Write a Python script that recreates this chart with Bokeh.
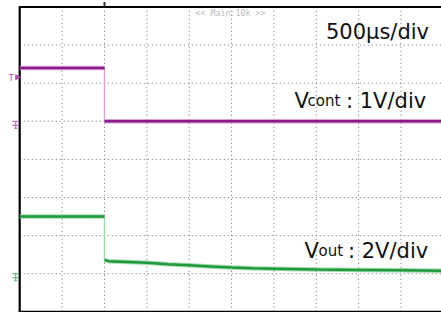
from bokeh.plotting import figure
from bokeh.models import Range1d
from bokeh.core.properties import value
from bokeh.embed import file_html
from bokeh.resources import INLINE

# ---------------- data (oscilloscope capture) ----------------
time_per_div_us = 500          # 500 us/div
n_xdiv = 10
n_ydiv = 8

# Vcont trace (1 V/div, ground at division 5)
vcont_t = [0, 1000, 1000, 5000]            # us
vcont_v = [1.40, 1.40, 0.00, 0.00]         # V
vcont_scale = 1.0
vcont_ground_div = 5

# Vout trace (2 V/div, ground at division 1)
vout_t = [0, 1000, 1000, 1050, 1500, 1750, 2000, 2250, 2500, 2750, 3000, 3500, 4000, 4500, 5000]
vout_v = [3.00, 3.00, 0.72, 0.66, 0.58, 0.50, 0.44, 0.38, 0.32, 0.28, 0.26, 0.22, 0.20, 0.18, 0.16]
vout_scale = 2.0
vout_ground_div = 1

trigger_time_us = 1000
trigger_level_v = 1.15     # trigger on Vcont

label_timebase = "500\u03bcs/div"
label_vcont = ("V", "cont", ": 1V/div")
label_vout = ("V", "out", ": 2V/div")
label_zoom = "<< Main:10k >>"

# ---------------- geometry helpers ----------------
full_t = time_per_div_us * n_xdiv
W, H = 441, 312
left_px = 19.3           # screen left edge inside the figure
bottom_px = 311.3        # graticule zero line
px_per_div_x = 42.35
px_per_div_y = 38.1
ux = time_per_div_us / px_per_div_x     # us per pixel
uy = 1.0 / px_per_div_y                 # div per pixel

x0 = -left_px * ux
x1 = (W - left_px) * ux
y0 = -(H - bottom_px) * uy
y1 = bottom_px * uy

p = figure(width=W, height=H, x_range=Range1d(x0, x1), y_range=Range1d(y0, y1),
           output_backend="svg", toolbar_location=None,
           x_axis_location=None, y_axis_location=None,
           min_border_left=0, min_border_right=0, min_border_top=0, min_border_bottom=0)
p.grid.visible = False
p.outline_line_color = None
p.background_fill_color = "white"
p.border_fill_color = "white"

def to_div(v, scale, ground):
    return [ground + x / scale for x in v]

def px_x(px):
    return (px - left_px) * ux

def px_y(py):
    return (bottom_px - py) * uy

# ---------------- graticule ----------------
gx = [time_per_div_us * k for k in range(1, n_xdiv)]
p.segment(x0=gx, y0=[0] * len(gx), x1=gx, y1=[n_ydiv] * len(gx),
          line_color="#6e6e6e", line_width=1, line_dash="1 3")
gy = list(range(1, n_ydiv))
p.segment(x0=[0] * len(gy), y0=gy, x1=[full_t] * len(gy), y1=gy,
          line_color="#6e6e6e", line_width=1, line_dash="1 3")

# screen border
p.segment(x0=[-1.2 * ux], y0=[0], x1=[-1.2 * ux], y1=[n_ydiv], line_color="#b0b0b0", line_width=1)
p.segment(x0=[0], y0=[-0.5 * uy], x1=[0], y1=[n_ydiv], line_color="black", line_width=2)
p.segment(x0=[-1 * ux], y0=[n_ydiv], x1=[full_t], y1=[n_ydiv], line_color="black", line_width=2)
p.segment(x0=[-1 * ux], y0=[0], x1=[full_t], y1=[0], line_color="black", line_width=2)

# trigger position mark above the screen
p.segment(x0=[trigger_time_us], y0=[n_ydiv], x1=[trigger_time_us], y1=[n_ydiv + 5 * uy],
          line_color="#333333", line_width=2)

# ---------------- traces ----------------
def draw_trace(t, v, scale, ground, dark, halo, edge):
    y = to_div(v, scale, ground)
    pieces, cur, edges = [], [0], []
    for i in range(1, len(t)):
        if t[i] == t[i - 1]:
            pieces.append(cur)
            edges.append((i - 1, i))
            cur = [i]
        else:
            cur.append(i)
    pieces.append(cur)
    for a, b in edges:
        p.line([t[a], t[b]], [y[a], y[b]], line_color=edge, line_width=1.5)
    for idx in pieces:
        xs = [t[i] for i in idx]
        ys = [y[i] for i in idx]
        p.line(xs, ys, line_color=halo, line_width=4.5, line_alpha=0.8)
        p.line(xs, ys, line_color=dark, line_width=2.5)

draw_trace(vcont_t, vcont_v, vcont_scale, vcont_ground_div, "#8a1c8a", "#cf8fcf", "#d9a3d9")
draw_trace(vout_t, vout_v, vout_scale, vout_ground_div, "#1f9a3c", "#8fd19f", "#9fd9ad")

# ---------------- ground markers ----------------
def ground_marker(level, color):
    xa, xb, xm = -7.5 * ux, -0.8 * ux, -4.1 * ux
    p.segment(x0=[xa, xm, xa, -5.6 * ux], y0=[level, level, level - 4 * uy, level - 7 * uy],
              x1=[xb, xm, xb, -2.6 * ux], y1=[level, level - 7 * uy, level - 4 * uy, level - 7 * uy],
              line_color=color, line_width=1.2)

ground_marker(vcont_ground_div, "#c070c0")
ground_marker(vout_ground_div, "#6cc07e")

# trigger level marker
trig_y = vcont_ground_div + trigger_level_v / vcont_scale
p.text(x=[-11 * ux], y=[trig_y - 1.2 * uy], text=["T"], text_color="#b050b0",
       text_font=value("DejaVu Sans"), text_font_size="8px", text_baseline="alphabetic",
       text_align="left")
p.scatter(x=[-2.6 * ux], y=[trig_y + 0.3 * uy], marker="triangle", size=5, angle=-1.5708,
          fill_color="#b050b0", line_color="#b050b0")

# ---------------- texts ----------------
font = value("DejaVu Sans")
p.text(x=[px_x(230)], y=[px_y(12)], text=[label_zoom], text_color="#bdbdbd",
       text_font=value("DejaVu Sans Mono"), text_font_size="8.3px",
       text_align="center", text_baseline="middle")

p.text(x=[px_x(428.5)], y=[px_y(31)], text=[label_timebase], text_color="#111111",
       text_font=font, text_font_size="21px", text_align="right", text_baseline="alphabetic")

for (v, sub, rest), vx, subx, restx, base in ((label_vcont, 294, 307, 345.5, 100),
                                              (label_vout, 304, 318, 347.5, 250)):
    p.text(x=[px_x(vx)], y=[px_y(base)], text=[v], text_color="#111111", text_font=font,
           text_font_size="21px", text_align="left", text_baseline="alphabetic")
    p.text(x=[px_x(subx)], y=[px_y(base)], text=[sub], text_color="#111111", text_font=font,
           text_font_size="15px", text_align="left", text_baseline="alphabetic")
    p.text(x=[px_x(restx)], y=[px_y(base)], text=[rest], text_color="#111111", text_font=font,
           text_font_size="21px", text_align="left", text_baseline="alphabetic")

open("out.html", "w").write(file_html(p, INLINE))
